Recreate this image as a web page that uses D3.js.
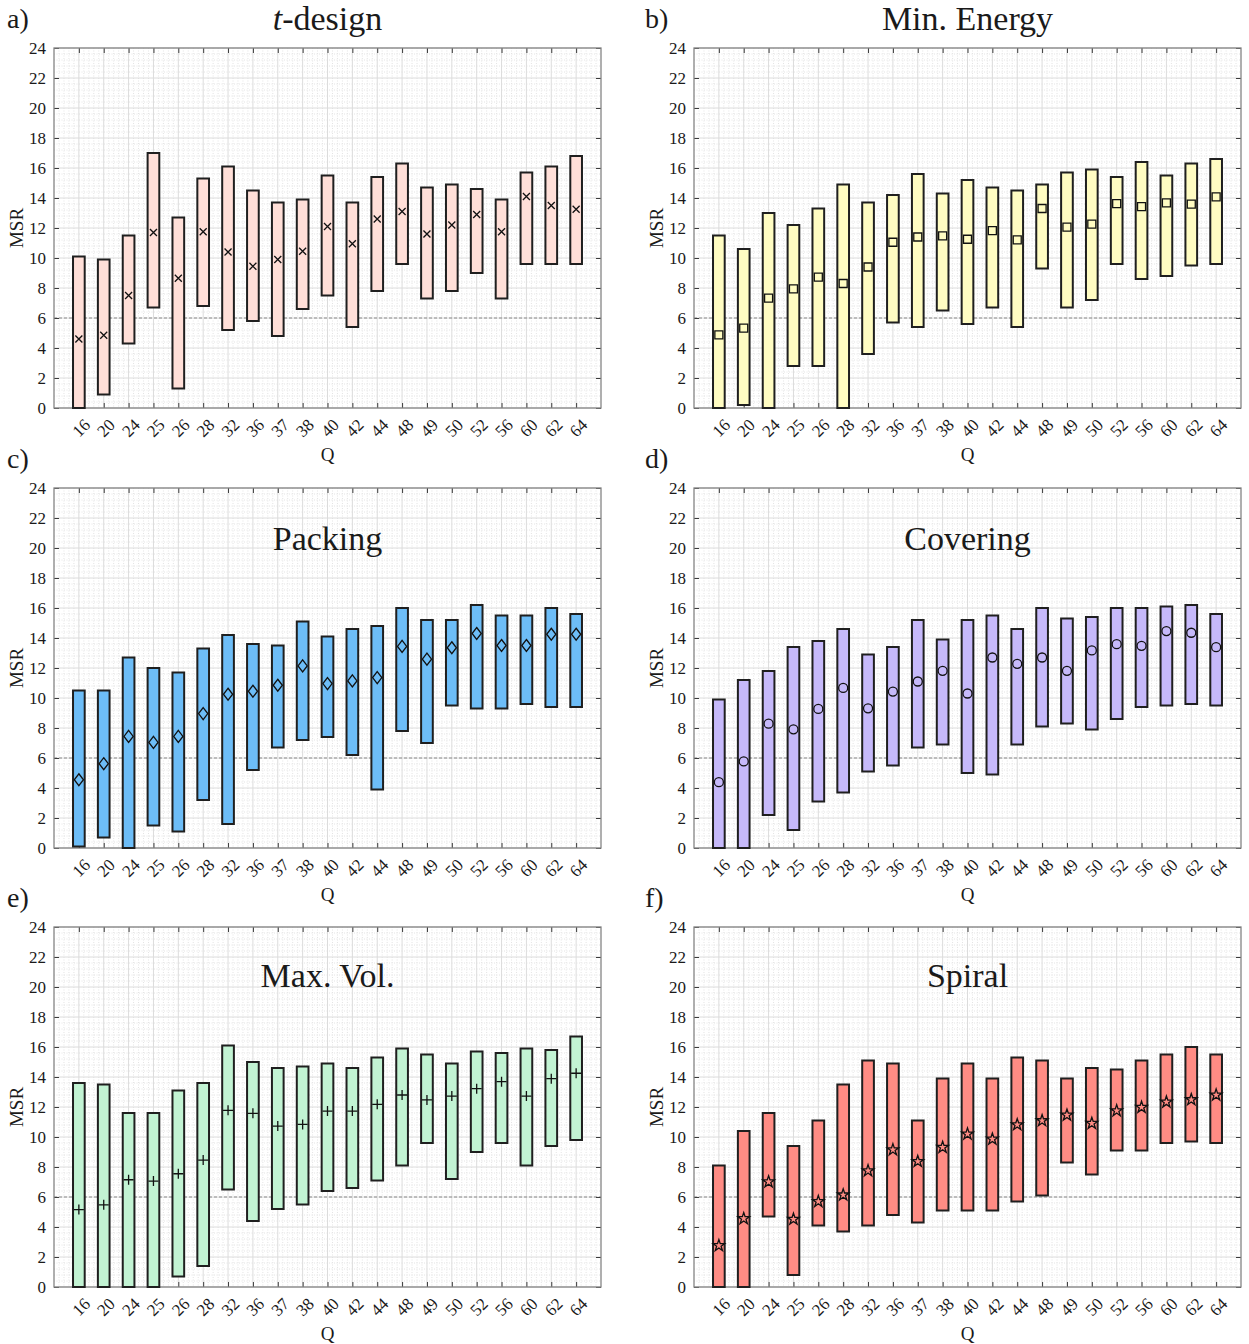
<!DOCTYPE html>
<html>
<head>
<meta charset="utf-8">
<script src="https://cdn.jsdelivr.net/npm/d3@7"></script>
<style>
body { margin: 0; background: #fff; }
svg text { font-family: "Liberation Serif", "Times New Roman", serif; fill: #1a1a1a; }
</style>
</head>
<body>
<svg id="chart" width="1249" height="1344"></svg>
<script>
// categories (Q) and y ticks
const Q = [16, 20, 24, 25, 26, 28, 32, 36, 37, 38, 40, 42, 44, 48, 49, 50, 52, 56, 60, 62, 64];
const Y_TICKS = [0, 2, 4, 6, 8, 10, 12, 14, 16, 18, 20, 22, 24];

// t-design
const tdesignLow  = [0, 0.9, 4.3, 6.7, 1.3, 6.8, 5.2, 5.8, 4.8, 6.6, 7.5, 5.4, 7.8, 9.6, 7.3, 7.8, 9.0, 7.3, 9.6, 9.6, 9.6];
const tdesignHigh = [10.1, 9.9, 11.5, 17.0, 12.7, 15.3, 16.1, 14.5, 13.7, 13.9, 15.5, 13.7, 15.4, 16.3, 14.7, 14.9, 14.6, 13.9, 15.7, 16.1, 16.8];
const tdesignMid  = [4.6, 4.85, 7.5, 11.7, 8.65, 11.75, 10.4, 9.45, 9.9, 10.45, 12.1, 10.95, 12.6, 13.1, 11.6, 12.2, 12.9, 11.75, 14.1, 13.5, 13.25];

// Min. Energy
const energyLow  = [0, 0.2, 0, 2.8, 2.8, 0, 3.6, 5.7, 5.4, 6.5, 5.6, 6.7, 5.4, 9.3, 6.7, 7.2, 9.6, 8.6, 8.8, 9.5, 9.6];
const energyHigh = [11.5, 10.6, 13.0, 12.2, 13.3, 14.9, 13.7, 14.2, 15.6, 14.3, 15.2, 14.7, 14.5, 14.9, 15.7, 15.9, 15.4, 16.4, 15.5, 16.3, 16.6];
const energyMid  = [4.87, 5.32, 7.32, 7.94, 8.72, 8.3, 9.4, 11.05, 11.4, 11.48, 11.25, 11.83, 11.21, 13.3, 12.06, 12.26, 13.63, 13.43, 13.68, 13.59, 14.08];

// Packing
const packingLow  = [0.1, 0.7, 0, 1.5, 1.1, 3.2, 1.6, 5.2, 6.7, 7.2, 7.4, 6.2, 3.9, 7.8, 7.0, 9.5, 9.3, 9.3, 9.6, 9.4, 9.4];
const packingHigh = [10.5, 10.5, 12.7, 12.0, 11.7, 13.3, 14.2, 13.6, 13.5, 15.1, 14.1, 14.6, 14.8, 16.0, 15.2, 15.2, 16.2, 15.5, 15.5, 16.0, 15.6];
const packingMid  = [4.55, 5.62, 7.44, 7.04, 7.44, 8.96, 10.25, 10.45, 10.85, 12.14, 10.96, 11.14, 11.36, 13.44, 12.59, 13.35, 14.3, 13.5, 13.5, 14.25, 14.25];

// Covering
const coveringLow  = [0, 0, 2.2, 1.2, 3.1, 3.7, 5.1, 5.5, 6.7, 6.9, 5.0, 4.9, 6.9, 8.1, 8.3, 7.9, 8.6, 9.4, 9.5, 9.6, 9.5];
const coveringHigh = [9.9, 11.2, 11.8, 13.4, 13.8, 14.6, 12.9, 13.4, 15.2, 13.9, 15.2, 15.5, 14.6, 16.0, 15.3, 15.4, 16.0, 16.0, 16.1, 16.2, 15.6];
const coveringMid  = [4.39, 5.77, 8.29, 7.91, 9.27, 10.67, 9.31, 10.43, 11.1, 11.81, 10.3, 12.7, 12.28, 12.7, 11.81, 13.17, 13.59, 13.48, 14.46, 14.35, 13.39];

// Max. Vol.
const maxvolLow  = [0, 0, 0, 0, 0.7, 1.4, 6.5, 4.4, 5.2, 5.5, 6.4, 6.6, 7.1, 8.1, 9.6, 7.2, 9.0, 9.6, 8.1, 9.4, 9.8];
const maxvolHigh = [13.6, 13.5, 11.6, 11.6, 13.1, 13.6, 16.1, 15.0, 14.6, 14.7, 14.9, 14.6, 15.3, 15.9, 15.5, 14.9, 15.7, 15.6, 15.9, 15.8, 16.7];
const maxvolMid  = [5.16, 5.48, 7.15, 7.06, 7.55, 8.46, 11.78, 11.58, 10.73, 10.84, 11.73, 11.73, 12.18, 12.8, 12.47, 12.73, 13.22, 13.69, 12.73, 13.89, 14.25];

// Spiral
const spiralLow  = [0, 0, 4.7, 0.8, 4.1, 3.7, 4.1, 4.8, 4.3, 5.1, 5.1, 5.1, 5.7, 6.1, 8.3, 7.5, 9.1, 9.1, 9.6, 9.7, 9.6];
const spiralHigh = [8.1, 10.4, 11.6, 9.4, 11.1, 13.5, 15.1, 14.9, 11.1, 13.9, 14.9, 13.9, 15.3, 15.1, 13.9, 14.6, 14.5, 15.1, 15.5, 16.0, 15.5];
const spiralMid  = [2.76, 4.56, 7.01, 4.52, 5.7, 6.14, 7.75, 9.15, 8.37, 9.31, 10.2, 9.86, 10.82, 11.09, 11.46, 10.91, 11.75, 11.98, 12.33, 12.49, 12.8];

const FONT = '"Liberation Serif", "Times New Roman", serif';
const PANEL_W = 547;
const PANEL_H = 360;
const COL_X = [54, 694];
const ROW_Y = [48, 488, 927];
const THRESHOLD = 6;

const panels = [
    {letter: 'a)', title: 't-design', low: tdesignLow, high: tdesignHigh, mid: tdesignMid, fill: '#ffdfd8', marker: 'x', col: 0, row: 0, inside: false},
    {letter: 'b)', title: 'Min. Energy', low: energyLow, high: energyHigh, mid: energyMid, fill: '#fffcc2', marker: 'square', col: 1, row: 0, inside: false},
    {letter: 'c)', title: 'Packing', low: packingLow, high: packingHigh, mid: packingMid, fill: '#6dbdf7', marker: 'diamond', col: 0, row: 1, inside: true},
    {letter: 'd)', title: 'Covering', low: coveringLow, high: coveringHigh, mid: coveringMid, fill: '#c6b9fa', marker: 'circle', col: 1, row: 1, inside: true},
    {letter: 'e)', title: 'Max. Vol.', low: maxvolLow, high: maxvolHigh, mid: maxvolMid, fill: '#c2f3d3', marker: 'plus', col: 0, row: 2, inside: true},
    {letter: 'f)', title: 'Spiral', low: spiralLow, high: spiralHigh, mid: spiralMid, fill: '#ff8c84', marker: 'star', col: 1, row: 2, inside: true}
];

const markerPaths = {
    x: 'M-3.5,-3.5L3.5,3.5M-3.5,3.5L3.5,-3.5',
    square: 'M-4,-4H4V4H-4Z',
    diamond: 'M0,-6L4.6,0L0,6L-4.6,0Z',
    circle: d3.symbol(d3.symbolCircle, 64)(),
    plus: 'M-5,0H5M0,-5V5',
    star: d3.symbol(d3.symbolStar, 42)()
};

const svg = d3.select('#chart');

const x = d3.scalePoint().domain(Q).range([0, PANEL_W]).padding(1);
const y = d3.scaleLinear().domain([0, 24]).range([PANEL_H, 0]);
const barWidth = x.step() * 0.47;

panels.forEach(p => {
    const left = COL_X[p.col];
    const top = ROW_Y[p.row];
    const g = svg.append('g').attr('transform', `translate(${left}, ${top})`);

    // minor grid
    const minorY = d3.range(0, 24.001, 0.4).filter(v => Math.abs(v / 2 - Math.round(v / 2)) > 0.01);
    g.append('g').selectAll('line').data(minorY).enter().append('line')
        .attr('x1', 0).attr('x2', PANEL_W)
        .attr('y1', d => y(d)).attr('y2', d => y(d))
        .attr('stroke', '#e4e4e4').attr('stroke-width', 1).attr('stroke-dasharray', '1,1.5');

    const minorX = d3.range(1, 5 * (Q.length + 1)).filter(k => k % 5 !== 0).map(k => k * x.step() / 5);
    g.append('g').selectAll('line').data(minorX).enter().append('line')
        .attr('y1', 0).attr('y2', PANEL_H)
        .attr('x1', d => d).attr('x2', d => d)
        .attr('stroke', '#e4e4e4').attr('stroke-width', 1).attr('stroke-dasharray', '1,1.5');

    // major grid
    g.append('g').selectAll('line').data(Y_TICKS).enter().append('line')
        .attr('x1', 0).attr('x2', PANEL_W)
        .attr('y1', d => y(d)).attr('y2', d => y(d))
        .attr('stroke', '#dcdcdc').attr('stroke-width', 1);
    g.append('g').selectAll('line').data(Q).enter().append('line')
        .attr('y1', 0).attr('y2', PANEL_H)
        .attr('x1', d => x(d)).attr('x2', d => x(d))
        .attr('stroke', '#dcdcdc').attr('stroke-width', 1);

    // threshold line
    g.append('line')
        .attr('x1', 0).attr('x2', PANEL_W)
        .attr('y1', y(THRESHOLD)).attr('y2', y(THRESHOLD))
        .attr('stroke', '#8c8c8c').attr('stroke-width', 1).attr('stroke-dasharray', '3,2');

    // title
    if (p.inside) {
        g.append('text')
            .attr('x', PANEL_W / 2).attr('y', p.row === 1 ? 62 : 60)
            .attr('text-anchor', 'middle')
            .style('font-family', FONT)
            .style('font-size', '34px')
            .text(p.title);
    }

    // axes
    const axisColor = '#3a3a3a';
    const yAxis = g.append('g').call(d3.axisLeft(y).tickValues(Y_TICKS).tickSize(-5).tickPadding(8).tickSizeOuter(0));
    yAxis.selectAll('text').style('font-family', FONT).style('font-size', '17px').attr('fill', '#1a1a1a');
    g.append('g').attr('transform', `translate(${PANEL_W}, 0)`)
        .call(d3.axisRight(y).tickValues(Y_TICKS).tickSize(-5).tickFormat('').tickSizeOuter(0));
    g.append('g')
        .call(d3.axisTop(x).tickSize(-5).tickFormat('').tickSizeOuter(0));
    const xAxis = g.append('g').attr('transform', `translate(0, ${PANEL_H})`)
        .call(d3.axisBottom(x).tickSize(-5).tickSizeOuter(0));
    xAxis.selectAll('text')
        .attr('y', 0).attr('dy', null)
        .attr('text-anchor', 'middle')
        .attr('dominant-baseline', 'central')
        .attr('transform', 'translate(2, 20) rotate(-45)')
        .style('font-family', FONT)
        .style('font-size', '17px')
        .attr('fill', '#1a1a1a');
    g.selectAll('.domain').remove();
    g.selectAll('.tick line').attr('stroke', axisColor);

    // box
    g.append('rect')
        .attr('width', PANEL_W).attr('height', PANEL_H)
        .attr('fill', 'none').attr('stroke', '#858585').attr('stroke-width', 1.3);

    // bars
    g.append('g').selectAll('rect').data(Q).enter().append('rect')
        .attr('x', d => x(d) - barWidth / 2)
        .attr('width', barWidth)
        .attr('y', (d, i) => y(p.high[i]))
        .attr('height', (d, i) => y(p.low[i]) - y(p.high[i]))
        .attr('fill', p.fill)
        .attr('stroke', '#1f1f1f')
        .attr('stroke-width', 2);

    // markers
    g.append('g').selectAll('path').data(Q).enter().append('path')
        .attr('transform', (d, i) => `translate(${x(d)}, ${y(p.mid[i])})`)
        .attr('d', markerPaths[p.marker])
        .attr('fill', 'none')
        .attr('stroke', '#111')
        .attr('stroke-width', 1.3);

    // axis labels
    g.append('text')
        .attr('transform', `translate(${-38}, ${PANEL_H / 2}) rotate(-90)`)
        .attr('text-anchor', 'middle')
        .attr('dominant-baseline', 'central')
        .style('font-family', FONT)
        .style('font-size', '19px')
        .text('MSR');
    g.append('text')
        .attr('x', PANEL_W / 2).attr('y', PANEL_H + 53)
        .attr('text-anchor', 'middle')
        .style('font-family', FONT)
        .style('font-size', '19px')
        .text('Q');

    // panel letter
    svg.append('text')
        .attr('x', p.col === 0 ? 7 : 645)
        .attr('y', top - 20)
        .style('font-family', FONT)
        .style('font-size', '28px')
        .text(p.letter);

    // titles above the top row
    if (!p.inside) {
        const t = svg.append('text')
            .attr('x', left + PANEL_W / 2).attr('y', 30)
            .attr('text-anchor', 'middle')
            .style('font-family', FONT)
            .style('font-size', '34px');
        if (p.title === 't-design') {
            t.append('tspan').style('font-style', 'italic').text('t');
            t.append('tspan').text('-design');
        } else {
            t.text(p.title);
        }
    }
});
</script>
</body>
</html>
